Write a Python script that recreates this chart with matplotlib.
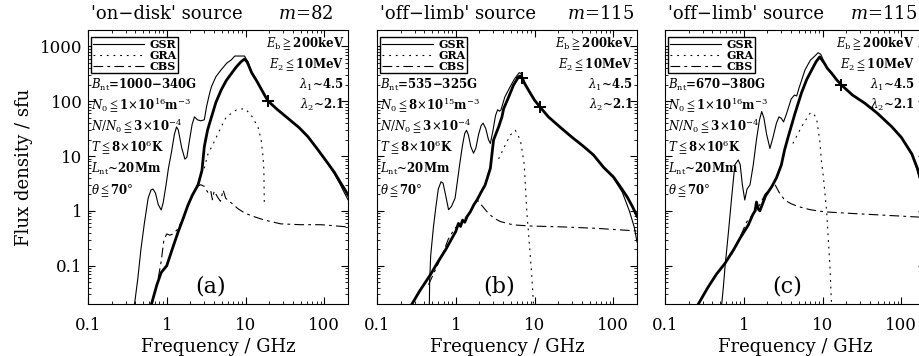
import matplotlib
matplotlib.use('Agg')
import matplotlib.pyplot as plt

# ---- panel (a): 'on-disk' source, m=82 ----
a_thick_f = [0.64, 0.75, 0.85, 1.0, 1.2, 1.4, 1.6, 1.85, 2.1, 2.5, 2.8, 3.0, 3.3, 3.7, 4.2, 4.9, 5.7,
             6.6, 7.7, 8.8, 9.7, 10.5, 12, 14, 16.5, 19.2, 25, 34.5, 48, 62, 80, 111, 135, 160, 181, 200]
a_thick_s = [0.02, 0.045, 0.075, 0.1, 0.22, 0.42, 0.7, 1.25, 1.9, 3.0, 5.5, 15, 30, 52, 95, 160, 240,
             320, 430, 530, 590, 520, 330, 230, 150, 102, 72, 49, 33, 22.6, 14, 7.4, 5.0, 3.3, 2.5, 1.95]
a_thin_f = [0.39, 0.43, 0.47, 0.52, 0.58, 0.63, 0.67, 0.72, 0.78, 0.85, 0.9, 0.98, 1.05, 1.15, 1.25,
            1.33, 1.4, 1.55, 1.7, 1.8, 1.95, 2.1, 2.25, 2.45, 2.7, 3.0, 3.2, 3.5, 3.7, 4.2, 4.9, 5.8,
            6.6, 7.3, 9.7, 10.7, 12, 14, 16.5, 19.2, 25, 34.5, 48, 62, 80, 111, 135, 160, 181, 200]
a_thin_s = [0.02, 0.06, 0.2, 0.6, 1.7, 2.4, 2.5, 2.1, 1.3, 1.04, 1.4, 3.0, 6, 12, 25,
            34, 30, 14, 8.8, 9.5, 20, 38, 52, 46, 44, 46, 80, 140, 186, 280, 375, 500,
            570, 670, 670, 528, 340, 232, 150, 102, 72, 49, 33, 22.6, 14, 7.2, 4.7, 3.0, 2.1, 1.6]
a_gra_f = [3.0, 3.3, 4.1, 4.9, 5.7, 7.6, 9.8, 11.8, 14.4, 15.8, 16.7, 17.1, 17.3]
a_gra_s = [6, 10.5, 19.7, 34, 52, 69, 74, 56, 34, 19.7, 9.6, 5.6, 1.4]
a_cbs_f = [0.78, 0.85, 0.92, 1.0, 1.1, 1.2, 1.35, 1.6, 1.85, 2.1, 2.4, 2.7, 3.0, 3.3, 3.6, 3.8, 4.0,
           4.4, 4.8, 5.2, 5.6, 6.6, 8, 9.8, 13, 17.4, 28, 50, 91, 200]
a_cbs_s = [0.06, 0.12, 0.3, 0.38, 0.36, 0.38, 0.45, 0.7, 1.25, 1.9, 2.8, 3.0, 2.8, 2.2, 2.4, 1.6, 2.3,
           1.8, 1.5, 2.4, 1.7, 1.4, 1.1, 0.91, 0.78, 0.68, 0.58, 0.56, 0.56, 0.51]
a_plus_f = [19.2]
a_plus_s = [102]

# ---- panel (b): 'off-limb' source, m=115 ----
b_thick_f = [0.278, 0.35, 0.475, 0.6, 0.75, 0.94, 1.0, 1.08, 1.15, 1.22, 1.3, 1.4, 1.53, 1.7, 1.86, 2.1,
             2.36, 2.75, 3.02, 3.5, 3.86, 4.05, 4.7, 5.4, 6.3, 6.7, 7.5, 8.8, 10, 11.8, 15, 21, 30, 42,
             56, 75.6, 100, 122, 150, 175, 200]
b_thick_s = [0.02, 0.035, 0.068, 0.12, 0.2, 0.36, 0.42, 0.59, 0.52, 0.68, 0.62, 0.8, 0.96, 1.3, 1.58, 2.2,
             2.97, 6, 19.7, 34, 52, 73, 120, 197, 282, 292, 210, 142, 105, 78, 52, 34, 22, 15,
             10.5, 6.2, 4.2, 2.8, 1.8, 1.2, 0.8]
b_thin_f = [0.462, 0.466, 0.48, 0.52, 0.56, 0.6, 0.65, 0.69, 0.74, 0.81, 0.88, 0.98, 1.05, 1.12, 1.22,
            1.3, 1.37, 1.45, 1.55, 1.68, 1.8, 1.95, 2.1, 2.22, 2.4, 2.6, 2.75, 2.95, 3.2, 3.4, 3.6,
            3.75, 4.2, 4.92, 5.6, 6.4, 6.8, 7.5, 8.8, 10, 11.8, 15, 21, 30, 42, 56, 75.6, 100, 130,
            160, 185, 200]
b_thin_s = [0.02, 0.05, 0.15, 0.5, 1.2, 2.5, 3.4, 3.2, 2.0, 1.05, 1.2, 1.7, 3.5, 7, 16,
            26, 29.6, 24, 15, 11.3, 14, 25, 36, 40, 32, 20, 17, 28, 55, 70, 66,
            70, 120, 186, 260, 333, 320, 220, 145, 105, 78, 52, 34, 22, 15, 10.3, 6.0, 4.0, 2.2,
            1.0, 0.5, 0.27]
b_gra_f = [3.5, 4.05, 4.9, 5.7, 6.6, 7.0, 7.4, 7.7, 8.0, 8.6, 9.2, 9.7]
b_gra_s = [8.9, 13.8, 24, 29.6, 19.7, 12, 7, 2.5, 0.92, 0.25, 0.07, 0.02]
b_cbs_f = [0.45, 0.52, 0.6, 0.7, 0.8, 0.9, 1.0, 1.2, 1.5, 1.75, 1.9, 2.1, 2.5, 3.0, 3.67, 5, 6, 8.8,
           23, 62, 200]
b_cbs_s = [0.045, 0.07, 0.11, 0.18, 0.3, 0.4, 0.5, 0.62, 0.95, 1.35, 1.55, 1.3, 0.96, 0.75, 0.64, 0.57,
           0.55, 0.53, 0.51, 0.48, 0.43]
b_plus_f = [6.9, 11.8]
b_plus_s = [266, 78]

# ---- panel (c): 'off-limb' source, m=115 ----
c_thick_f = [0.265, 0.35, 0.45, 0.577, 0.75, 0.9, 1.14, 1.3, 1.39, 1.45, 1.52, 1.6, 1.68, 1.9, 2.26,
             2.6, 3.0, 3.3, 3.67, 4.47, 5.4, 6.3, 7.3, 8.3, 9.2, 10.5, 11.5, 13.1, 15, 17.4, 24, 34.5,
             50, 75.6, 100, 136, 160, 180, 200]
c_thick_s = [0.02, 0.04, 0.07, 0.11, 0.2, 0.32, 0.55, 0.85, 1.0, 1.45, 1.1, 1.0, 1.2, 1.9, 2.75,
             4, 6.9, 13, 22.6, 60, 142, 250, 375, 530, 646, 500, 400, 323, 250, 198, 130, 92,
             60, 34.4, 22, 11, 6, 3.3, 1.7]
c_thin_f = [0.525, 0.55, 0.58, 0.64, 0.7, 0.77, 0.85, 0.9, 0.96, 1.03, 1.1, 1.2, 1.32, 1.45, 1.58,
            1.69, 1.8, 1.95, 2.15, 2.35, 2.6, 2.8, 3.0, 3.2, 3.5, 4.0, 4.4, 4.7, 5.0, 6.0, 7.0, 8.0,
            8.8, 9.5, 10.5, 11.5, 13.1, 15, 17.4, 24, 34.5, 50, 75.6, 100, 136, 160, 180, 200]
c_thin_s = [0.02, 0.04, 0.1, 0.42, 1.69, 6.9, 8.5, 7, 3, 1.58, 2.5, 3, 6.9, 20, 45,
            65, 50, 25, 13.8, 22, 40, 52, 49, 42, 60, 110, 130, 125, 170, 375, 560, 671,
            770, 720, 520, 400, 323, 250, 198, 130, 92, 60, 34.4, 22, 10.5, 5.5, 2.9, 1.4]
c_gra_f = [4.2, 5.4, 6.9, 7.5, 8.4, 9.2, 9.7, 10.2, 11.3, 12.4, 13.0]
c_gra_s = [17, 34, 60, 62, 49, 19.7, 8, 4.5, 0.96, 0.1, 0.02]
c_cbs_f = [0.7, 0.85, 1.09, 1.39, 1.6, 1.86, 2.26, 2.5, 2.8, 3.3, 4.0, 4.9, 7, 10.7, 23, 56, 200]
c_cbs_s = [0.16, 0.28, 0.63, 0.96, 1.3, 2.0, 2.75, 3.0, 2.2, 1.58, 1.35, 1.2, 1.05, 0.96, 0.9, 0.84, 0.76]
c_plus_f = [17.4]
c_plus_s = [198]

titles_left = ["'on\u2212disk' source", "'off\u2212limb' source", "'off\u2212limb' source"]
titles_m = ['82', '115', '115']
panel_tags = ['(a)', '(b)', '(c)']
b_nt = ['1000\u2212340G', '535\u2212325G', '670\u2212380G']
n0_text = [r'$N_0\leqq$1$\times$10$^{16}$m$^{-3}$', r'$N_0\leqq$8$\times$10$^{15}$m$^{-3}$',
           r'$N_0\leqq$1$\times$10$^{16}$m$^{-3}$']
common_left = [r'$N/N_0\leqq$3$\times$10$^{-4}$', r'$T\leqq$8$\times$10$^6$K', r'$L_{\rm nt}$~20Mm',
               r'$\theta\leqq$70$\degree$']
right_text = [r'$E_{\rm b}\geqq$200keV', r'$E_2\leqq$10MeV', r'$\lambda_1$~4.5', r'$\lambda_2$~2.1']

plt.rcParams['font.family'] = ['DejaVu Serif', 'DejaVu Sans']
plt.rcParams['mathtext.fontset'] = 'dejavuserif'
plt.rcParams['lines.scale_dashes'] = False

panels = [
    (a_thick_f, a_thick_s, a_thin_f, a_thin_s, a_gra_f, a_gra_s, a_cbs_f, a_cbs_s, a_plus_f, a_plus_s),
    (b_thick_f, b_thick_s, b_thin_f, b_thin_s, b_gra_f, b_gra_s, b_cbs_f, b_cbs_s, b_plus_f, b_plus_s),
    (c_thick_f, c_thick_s, c_thin_f, c_thin_s, c_gra_f, c_gra_s, c_cbs_f, c_cbs_s, c_plus_f, c_plus_s),
]
lefts_px = [88, 377, 665]
m_title_x = [0.73, 0.73, 0.71]
right_text_x = [0.985, 0.985, 0.96]

fig = plt.figure(figsize=(9.2, 3.56), dpi=100)
W, H = 920.0, 356.0

for i, (tf, ts, nf, ns, gf, gs, cf, cs, pf, ps) in enumerate(panels):
    # panel (c) runs past the right edge of the picture, as in the original figure crop
    ax = fig.add_axes([lefts_px[i] / W, (H - 304) / H, 260 / W, 274 / H])
    ax.set_xscale('log')
    ax.set_yscale('log')
    ax.set_xlim(0.1, 200)
    ax.set_ylim(0.02, 2000)

    l_gsr, = ax.plot(nf, ns, color='black', lw=0.8, label='GSR')
    ax.plot(tf, ts, color='black', lw=2.0)
    l_gra, = ax.plot(gf, gs, color='black', lw=0.8, dashes=(1.3, 3.5), label='GRA')
    l_cbs, = ax.plot(cf, cs, color='black', lw=0.8, dashes=(7, 3, 2, 3), label='CBS')
    ax.plot(pf, ps, linestyle='none', marker='+', color='black', markersize=8, mew=1.4)

    ax.tick_params(which='both', direction='in', top=True, right=True, colors='black',
                   labelsize=12)
    ax.tick_params(which='major', length=5, width=0.8)
    ax.tick_params(which='minor', length=2.5, width=0.6)
    ax.tick_params(axis='x', pad=9)
    ax.tick_params(axis='y', pad=4)
    ax.set_xticks([0.1, 1, 10, 100])
    ax.set_xticklabels(['0.1', '1', '10', '100'])
    ax.set_yticks([0.1, 1, 10, 100, 1000])
    if i == 0:
        ax.set_yticklabels(['0.1', '1', '10', '100', '1000'])
        ax.set_ylabel('Flux density / sfu', fontsize=13, labelpad=5)
    else:
        ax.set_yticklabels([])
    ax.set_xlabel('Frequency / GHz', fontsize=13, labelpad=3)

    ax.text(0.01, 1.025, titles_left[i], transform=ax.transAxes, fontsize=13, ha='left', va='bottom')
    ax.text(m_title_x[i], 1.025, '$m$=' + titles_m[i], transform=ax.transAxes, fontsize=13, ha='left',
            va='bottom')

    leg = ax.legend(handles=[l_gsr, l_gra, l_cbs], loc='upper left', bbox_to_anchor=(0.012, 0.975),
                    borderaxespad=0, borderpad=0.15, labelspacing=0.0, handlelength=4.6,
                    handletextpad=0.5, fancybox=False, framealpha=1, edgecolor='black',
                    prop={'size': 8, 'weight': 'bold'})
    leg.get_frame().set_linewidth(1.0)

    left_lines = [r'$B_{\rm nt}$=' + b_nt[i], n0_text[i]] + common_left
    for k, txt in enumerate(left_lines):
        ax.text(0.012, 0.80 - k * 0.077, txt, transform=ax.transAxes, fontsize=8.5, fontweight='bold',
                ha='left', va='center')
    for k, txt in enumerate(right_text):
        ax.text(right_text_x[i], 0.95 - k * 0.075, txt, transform=ax.transAxes, fontsize=8.5,
                fontweight='bold', ha='right', va='center')

    ax.text(0.47, 0.065, panel_tags[i], transform=ax.transAxes, fontsize=16, ha='center', va='center')

fig.savefig('out.png', dpi=100)
